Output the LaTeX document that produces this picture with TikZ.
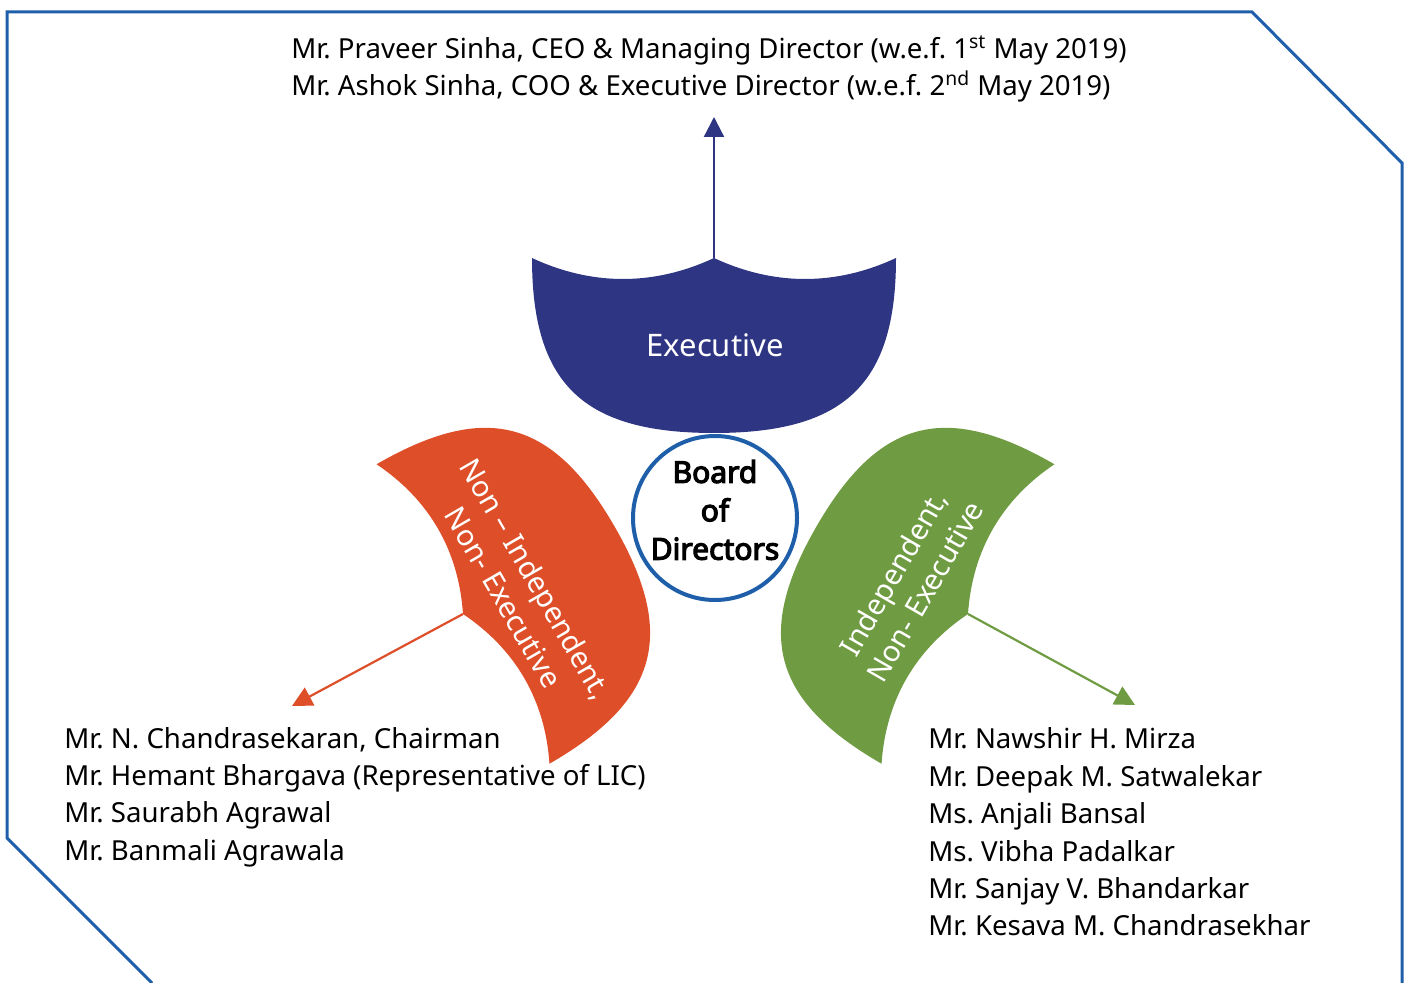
\documentclass[tikz,border=0pt]{standalone}
\usepackage{fontspec}
\setmainfont{Noto Sans}
\newfontfamily\boardfont{Noto Sans}[FakeBold=4]
\usetikzlibrary{arrows.meta}
\definecolor{execblue}{HTML}{2E3583}
\definecolor{nonindorange}{HTML}{DE4F29}
\definecolor{indgreen}{HTML}{6F9C42}
\definecolor{boardblue}{HTML}{1F5FA9}
\newcommand{\canopy}[1]{\fill[#1] (0,0) .. controls (-60,28) and (-122,28) .. (-182,0) .. controls (-182,126) and (-131,175) .. (0,175) .. controls (131,175) and (182,126) .. (182,0) .. controls (122,28) and (60,28) .. (0,0) -- cycle;}
\frenchspacing

\begin{document}
\begin{tikzpicture}[x=0.5pt, y=-0.5pt,
    names/.style={align=left, anchor=west, inner sep=0pt, font=\fontsize{13.8}{18.7}\selectfont},
    arr/.style={line width=1.1pt, -{Triangle[width=10pt,length=10pt]}},
    wing/.style={text=white, align=center, inner sep=0pt, font=\fontsize{14.5}{18.5}\selectfont}]
    \useasboundingbox (0,0) rectangle (1407,983);
    \draw[boardblue, line width=1.5pt] (152,983) -- (7,838) -- (7,12) -- (1252,12) -- (1402,163) -- (1402,983);

    \coordinate (exechub) at (714,258);
    \coordinate (nonhub) at (463,614);
    \coordinate (indhub) at (968,614);
    \coordinate (exectip) at (714,117);
    \coordinate (nontip) at (292,706);
    \coordinate (indtip) at (1135,705);

    \begin{scope}[shift={(exechub)}]
        \canopy{execblue}
    \end{scope}
    \begin{scope}[shift={(nonhub)}, rotate=120, xscale=0.95]
        \canopy{nonindorange}
    \end{scope}
    \begin{scope}[shift={(indhub)}, rotate=-120, xscale=0.95]
        \canopy{indgreen}
    \end{scope}

    \node[wing, font=\fontsize{15.5}{19}\selectfont] (exec) at (715,345) {Executive};
    \node[wing, rotate=-60] (nonind) at (520,588) {Non – Independent,\\Non- Executive};
    \node[wing, rotate=60] (ind) at (909,582) {Independent,\\Non- Executive};

    \node[circle, draw=boardblue, line width=2pt, minimum size=82pt, inner sep=0pt] (board) at (715,518) {};
    \node[align=center, inner sep=0pt, font=\boardfont\fontsize{15}{19.2}\selectfont] (boardtxt) at (715,510) {Board\\of\\Directors};

    \node[names] (execnames) at (291,69) {Mr. Praveer Sinha, CEO \& Managing Director (w.e.f. 1\textsuperscript{st} May 2019)\\Mr. Ashok Sinha, COO \& Executive Director (w.e.f. 2\textsuperscript{nd} May 2019)};
    \node[names] (nonnames) at (64,797) {Mr. N. Chandrasekaran, Chairman\\Mr. Hemant Bhargava (Representative of LIC)\\Mr. Saurabh Agrawal\\Mr. Banmali Agrawala};
    \node[names] (indnames) at (928,832) {Mr. Nawshir H. Mirza\\Mr. Deepak M. Satwalekar\\Ms. Anjali Bansal\\Ms. Vibha Padalkar\\Mr. Sanjay V. Bhandarkar\\Mr. Kesava M. Chandrasekhar};

    \draw[arr, execblue] (exechub) -- (exectip);
    \draw[arr, nonindorange] (nonhub) -- (nontip);
    \draw[arr, indgreen] (indhub) -- (indtip);
\end{tikzpicture}
\end{document}
